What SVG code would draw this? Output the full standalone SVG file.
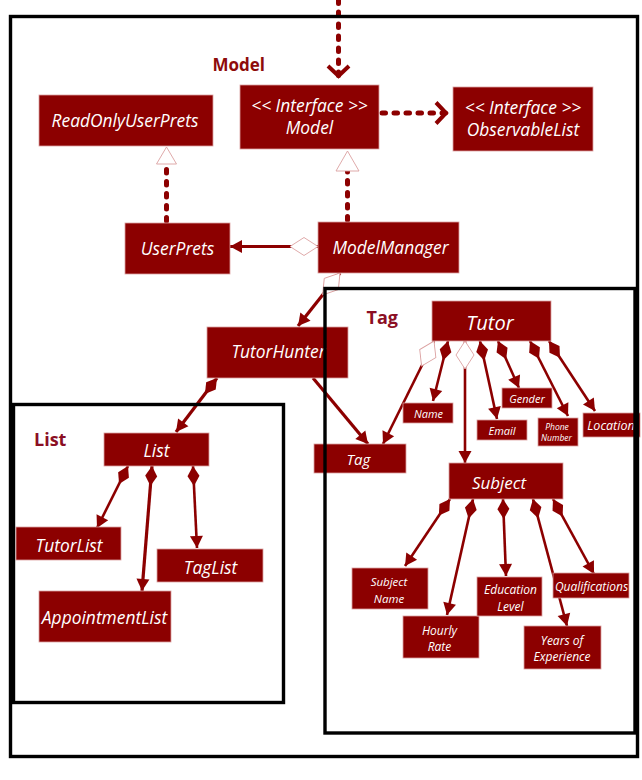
<svg xmlns="http://www.w3.org/2000/svg" width="642" height="780" viewBox="0 0 642 780">
<style>
.box{fill:#8c0000;stroke:#dba0a0;stroke-width:0.8}
.t{font-family:"Open Sans","Liberation Sans",sans-serif;font-style:italic;fill:#ffffff;text-anchor:middle;dominant-baseline:central}
.m{font-size:17.4px}
.lbl{font-family:"Open Sans","Liberation Sans",sans-serif;font-weight:bold}
.ln{fill:none;stroke:#8c0000;stroke-width:2.6}
.thick{stroke-width:3.2}
.dot{fill:none;stroke:#8c0000;stroke-width:5;stroke-linecap:round;stroke-dasharray:3.5 8.5}
.frame{fill:none;stroke:#000000;stroke-width:3.4}
</style>
<defs>
<marker id="dF" markerUnits="userSpaceOnUse" markerWidth="24" markerHeight="16" refX="0" refY="7" orient="auto" overflow="visible">
<path d="M0,7 L10,1 L20,7 L10,13 Z" fill="#8c0000"/>
</marker>
<marker id="dH" markerUnits="userSpaceOnUse" markerWidth="32" markerHeight="20" refX="0" refY="9" orient="auto" overflow="visible">
<path d="M0,9 L14,0 L28,9 L14,18 Z" fill="#ffffff" stroke="#dba0a0" stroke-width="0.9"/>
</marker>
<marker id="aF" markerUnits="userSpaceOnUse" markerWidth="14" markerHeight="14" refX="12" refY="6.5" orient="auto" overflow="visible">
<path d="M0,0 L12,6.5 L0,13 Z" fill="#8c0000"/>
</marker>
<marker id="aO" markerUnits="userSpaceOnUse" markerWidth="16" markerHeight="26" refX="10" refY="11" orient="auto" overflow="visible">
<path d="M0,0.5 L10,11 L0,21.5" fill="none" stroke="#8c0000" stroke-width="4"/>
</marker>
<marker id="tH" markerUnits="userSpaceOnUse" markerWidth="22" markerHeight="26" refX="0" refY="11.5" orient="auto" overflow="visible">
<path d="M0,0 L20,11.5 L0,23 Z" fill="#ffffff" stroke="#dba0a0" stroke-width="0.9"/>
</marker>
<marker id="tH2" markerUnits="userSpaceOnUse" markerWidth="20" markerHeight="22" refX="0" refY="10" orient="auto" overflow="visible">
<path d="M0,0 L17,10 L0,20 Z" fill="#ffffff" stroke="#dba0a0" stroke-width="0.9"/>
</marker>
</defs>
<rect width="642" height="780" fill="#ffffff"/>

<g id="connectors">
<path class="dot" d="M338.5,0 L338.5,76" marker-end="url(#aO)"/>
<path class="dot" d="M382,113 L446,113" marker-end="url(#aO)"/>
<path class="dot" d="M347.5,220 L347.5,171" marker-end="url(#tH)"/>
<path class="dot" d="M166.5,221 L166.5,164" marker-end="url(#tH2)"/>
<path class="ln thick" d="M318,246.5 L230,246.5" marker-start="url(#dH)" marker-end="url(#aF)"/>
<path class="ln thick" d="M340,273 L298,326" marker-start="url(#dH)" marker-end="url(#aF)"/>
<path class="ln thick" d="M217,378 L176,432" marker-start="url(#dF)" marker-end="url(#aF)"/>
<path class="ln thick" d="M313,378 L368,444" marker-end="url(#aF)"/>
<path class="ln" d="M434,341 L383,444" marker-start="url(#dH)" marker-end="url(#aF)"/>
<path class="ln" d="M448,341 L433,401" marker-start="url(#dF)" marker-end="url(#aF)"/>
<path class="ln" d="M465,341 L465,463" marker-start="url(#dH)" marker-end="url(#aF)"/>
<path class="ln" d="M480,341 L497,419" marker-start="url(#dF)" marker-end="url(#aF)"/>
<path class="ln" d="M498,341 L519,388" marker-start="url(#dF)" marker-end="url(#aF)"/>
<path class="ln" d="M530,341 L568,416" marker-start="url(#dF)" marker-end="url(#aF)"/>
<path class="ln" d="M549,341 L595,411" marker-start="url(#dF)" marker-end="url(#aF)"/>
<path class="ln" d="M450,499 L405,566" marker-start="url(#dF)" marker-end="url(#aF)"/>
<path class="ln" d="M473,499 L447,615" marker-start="url(#dF)" marker-end="url(#aF)"/>
<path class="ln" d="M503,499 L506,576" marker-start="url(#dF)" marker-end="url(#aF)"/>
<path class="ln" d="M533,499 L567,626" marker-start="url(#dF)" marker-end="url(#aF)"/>
<path class="ln" d="M553,499 L594,574" marker-start="url(#dF)" marker-end="url(#aF)"/>
<path class="ln" d="M128,466 L97,528" marker-start="url(#dF)" marker-end="url(#aF)"/>
<path class="ln thick" d="M152,466 L142,591" marker-start="url(#dF)" marker-end="url(#aF)"/>
<path class="ln" d="M193,466 L197,548" marker-start="url(#dF)" marker-end="url(#aF)"/>
</g>

<g id="ReadOnlyUserPrets"><rect class="box" x="39" y="95" width="174" height="51"/><text class="t m" x="125" y="119.5">ReadOnlyUserPrets</text></g>
<g id="Model"><rect class="box" x="240" y="85" width="139" height="64"/><text class="t m" x="309.5" y="104.5">&lt;&lt; Interface &gt;&gt;</text><text class="t m" x="309.5" y="127">Model</text></g>
<g id="ObservableList"><rect class="box" x="453" y="87" width="140" height="64"/><text class="t m" x="523" y="106.5">&lt;&lt; Interface &gt;&gt;</text><text class="t m" x="523" y="129">ObservableList</text></g>
<g id="UserPrets"><rect class="box" x="125" y="223" width="105" height="51"/><text class="t m" x="177.5" y="248">UserPrets</text></g>
<g id="ModelManager"><rect class="box" x="318" y="222" width="141" height="51"/><text class="t m" x="390.5" y="246.5">ModelManager</text></g>
<g id="TutorHunter"><rect class="box" x="207" y="327" width="141" height="51"/><text class="t m" x="278.5" y="351">TutorHunter</text></g>
<g id="List"><rect class="box" x="104" y="433" width="105" height="33"/><text class="t m" x="156.5" y="449.5">List</text></g>
<g id="TutorList"><rect class="box" x="16" y="527" width="105" height="33"/><text class="t m" x="69" y="544.5">TutorList</text></g>
<g id="TagList"><rect class="box" x="157" y="549" width="106" height="33"/><text class="t m" x="210.5" y="566.5">TagList</text></g>
<g id="AppointmentList"><rect class="box" x="39" y="591" width="132" height="51"/><text class="t m" x="104.5" y="616.5">AppointmentList</text></g>
<g id="Tag"><rect class="box" x="314" y="444" width="92" height="29"/><text class="t" x="358.5" y="459" font-size="15">Tag</text></g>
<g id="Tutor"><rect class="box" x="432" y="301" width="119" height="40"/><text class="t" x="490" y="322" font-size="20">Tutor</text></g>
<g id="Name"><rect class="box" x="403" y="403" width="50" height="20"/><text class="t" x="428.5" y="413" font-size="11">Name</text></g>
<g id="Email"><rect class="box" x="477" y="420" width="50" height="20"/><text class="t" x="502" y="430" font-size="11">Email</text></g>
<g id="Gender"><rect class="box" x="502" y="388" width="50" height="20"/><text class="t" x="527" y="398" font-size="11">Gender</text></g>
<g id="PhoneNumber"><rect class="box" x="538" y="418" width="40" height="28"/><text class="t" x="557" y="426" font-size="8.5">Phone</text><text class="t" x="556.5" y="437.5" font-size="8.5">Number</text></g>
<g id="Location"><rect class="box" x="583" y="413" width="57" height="24"/><text class="t" x="611" y="425" font-size="12.5">Location</text></g>
<g id="Subject"><rect class="box" x="449" y="463" width="114" height="36"/><text class="t" x="499" y="482" font-size="17">Subject</text></g>
<g id="SubjectName"><rect class="box" x="352" y="568" width="76" height="41"/><text class="t" x="389" y="581.5" font-size="11.5">Subject</text><text class="t" x="389" y="598.5" font-size="11.5">Name</text></g>
<g id="HourlyRate"><rect class="box" x="403" y="616" width="76" height="42"/><text class="t" x="439.5" y="630" font-size="12">Hourly</text><text class="t" x="439.5" y="646.5" font-size="12">Rate</text></g>
<g id="EducationLevel"><rect class="box" x="477" y="577" width="65" height="39"/><text class="t" x="510.5" y="589.5" font-size="12">Education</text><text class="t" x="510.5" y="606.5" font-size="12">Level</text></g>
<g id="YearsOfExperience"><rect class="box" x="524" y="626" width="77" height="43"/><text class="t" x="562" y="640" font-size="12">Years of</text><text class="t" x="562" y="656.5" font-size="12">Experience</text></g>
<g id="Qualifications"><rect class="box" x="553" y="573" width="76" height="25"/><text class="t" x="591.5" y="586.5" font-size="12">Qualifications</text></g>

<g id="frames">
<rect class="frame" x="10.5" y="16.5" width="627" height="740"/>
<text class="lbl" x="212.5" y="71" font-size="17" fill="#8e0b0b">Model</text>
<rect class="frame" x="325" y="288.5" width="310" height="444.5"/>
<text class="lbl" x="366.5" y="323.5" font-size="18" fill="#8b0f24">Tag</text>
<rect class="frame" x="13.5" y="404.5" width="270" height="298"/>
<text class="lbl" x="34" y="446" font-size="18" fill="#8b0f24">List</text>
</g>
</svg>
